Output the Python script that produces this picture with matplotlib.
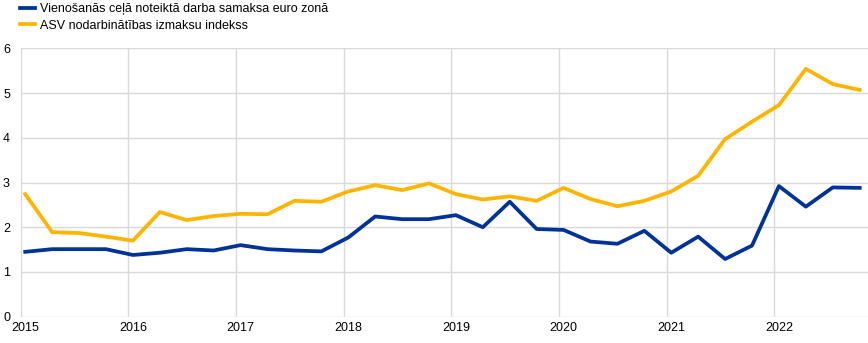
import matplotlib
matplotlib.use("Agg")
import matplotlib.pyplot as plt
import numpy as np

series_labels = ["Vienošanās ceļā noteiktā darba samaksa euro zonā",
                 "ASV nodarbinātības izmaksu indekss"]
start_year = 2015
euro_wages = [1.45, 1.51, 1.51, 1.51, 1.38, 1.43, 1.51, 1.48,
              1.60, 1.51, 1.48, 1.46, 1.77, 2.24, 2.18, 2.18,
              2.27, 2.00, 2.57, 1.96, 1.94, 1.68, 1.63, 1.92,
              1.43, 1.79, 1.29, 1.59, 2.92, 2.46, 2.89, 2.88]
us_eci = [2.74, 1.89, 1.87, 1.79, 1.70, 2.34, 2.16, 2.25,
          2.30, 2.29, 2.59, 2.57, 2.80, 2.94, 2.83, 2.98,
          2.74, 2.62, 2.69, 2.59, 2.88, 2.63, 2.47, 2.59,
          2.80, 3.15, 3.97, 4.36, 4.73, 5.54, 5.20, 5.07]
year_labels = ["2015", "2016", "2017", "2018", "2019", "2020", "2021", "2022"]
y_ticks = [0, 1, 2, 3, 4, 5, 6]

BLUE = "#003299"
ORANGE = "#FFB400"
GRID = "#d9d9d9"
plt.rcParams['font.family'] = ['Liberation Sans', 'DejaVu Sans']

fig = plt.figure(figsize=(8.68, 3.43), dpi=100)
ax = fig.add_axes([20.7/868, 1-316.7/343, 1-20.7/868, (316.7-48.3)/343])

t = start_year + np.arange(len(euro_wages)) / 4.0
l1, = ax.plot(t, euro_wages, color=BLUE, lw=2.7, solid_joinstyle='round', zorder=3)
l2, = ax.plot(t, us_eci, color=ORANGE, lw=2.7, solid_joinstyle='round', zorder=3)

off = 0.042
ax.set_xlim(start_year - off, start_year + 843/107.7)
ax.set_ylim(0, 6)
years = [int(y) for y in year_labels]
ax.set_xticks(years)
ax.set_xticklabels(year_labels, fontsize=9)
for y in years:
    ax.axvline(y - off, color=GRID, lw=1, zorder=1)
ax.set_yticks(y_ticks)
ax.set_yticklabels([str(v) for v in y_ticks], fontsize=9, ha='left')
for v in y_ticks:
    ax.axhline(v, color=GRID, lw=1, zorder=1)
ax.tick_params(axis='both', length=0)
ax.tick_params(axis='y', pad=12.7)
ax.tick_params(axis='x', pad=4)
for s in ax.spines.values():
    s.set_visible(False)

fig.legend([l1, l2], series_labels, loc='upper left', bbox_to_anchor=(14/868, 1.0 + 3/343),
           frameon=False, fontsize=9, handlelength=1.2, handletextpad=0.35,
           labelspacing=0.35, borderaxespad=0.1)

fig.savefig("out.png", dpi=100)
